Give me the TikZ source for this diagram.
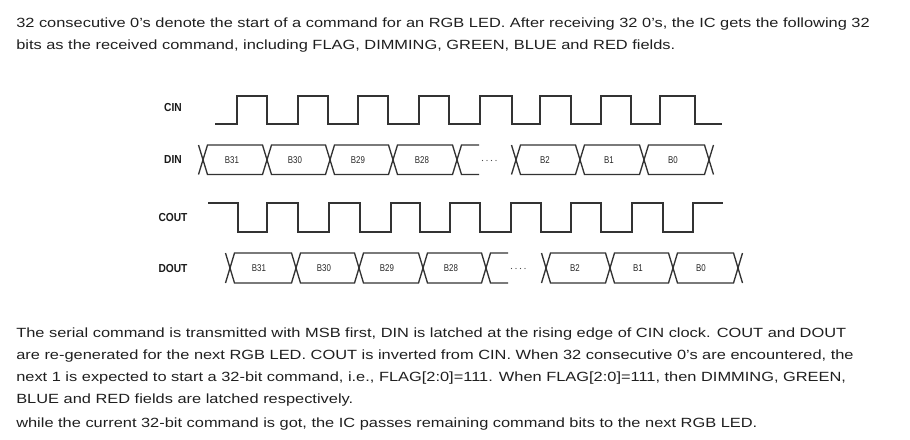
\documentclass[tikz,border=0pt]{standalone}
\usepackage{fontspec}
\setmainfont{Liberation Sans}
\newfontfamily\parafont[FakeStretch=1.23]{Liberation Sans}
\newfontfamily\sigfont[FakeStretch=0.88]{Liberation Sans}
\newfontfamily\bitfont[FakeStretch=0.8]{Liberation Sans}
\begin{document}
\begin{tikzpicture}[x=0.75pt,y=-0.75pt,
    wave/.style={line width=1pt,draw=black!80,line join=miter},
    signame/.style={font=\sigfont\bfseries\fontsize{8.7pt}{10pt}\selectfont,text=black!90,inner sep=0pt},
    bitname/.style={font=\bitfont\fontsize{7.4pt}{9pt}\selectfont,text=black!85,inner sep=0pt},
    para/.style={font=\parafont\fontsize{10pt}{12pt}\selectfont,text=black!88,inner sep=0pt,anchor=base west}]
    \useasboundingbox (0,0) rectangle (910,439);
    % text above
    \node (top1) at (16,27.3) [para] {32 consecutive 0’s denote the start of a command for an RGB LED. After receiving 32 0’s, the IC gets the following 32};
    \node (top2) at (16,49.3) [para] {bits as the received command, including FLAG, DIMMING, GREEN, BLUE and RED fields.};
    % signal names
    \node (cin) at (173,108) [signame] {CIN};
    \node (din) at (173,160) [signame] {DIN};
    \node (cout) at (173,218) [signame] {COUT};
    \node (dout) at (173,269) [signame] {DOUT};
    % CIN
    \draw [wave] (215,124)--(237,124)--(237,96)--(267,96)--(267,124)--(298,124)--(298,96)--(328,96)--(328,124)--(358,124)--(358,96)--(388,96)--(388,124)--(419,124)--(419,96)--(449,96)--(449,124)--(480,124)--(480,96)--(512,96)--(512,124)--(540,124)--(540,96)--(571,96)--(571,124)--(601,124)--(601,96)--(631,96)--(631,124)--(660,124)--(660,96)--(695,96)--(695,124)--(722,124);
    % DIN
    \draw [wave] (198.5,174.5)--(207.5,145)--(262.5,145)--(271.5,174.5)--(325.5,174.5)--(334.5,145)--(388.5,145)--(397.5,174.5)--(452.5,174.5)--(461.5,145)--(479,145);
    \draw [wave] (198.5,145)--(207.5,174.5)--(262.5,174.5)--(271.5,145)--(325.5,145)--(334.5,174.5)--(388.5,174.5)--(397.5,145)--(452.5,145)--(461.5,174.5)--(479,174.5);
    \draw [wave] (511.5,174.5)--(520.5,145)--(575.5,145)--(584.5,174.5)--(639.5,174.5)--(648.5,145)--(704.5,145)--(713.5,174.5);
    \draw [wave] (511.5,145)--(520.5,174.5)--(575.5,174.5)--(584.5,145)--(639.5,145)--(648.5,174.5)--(704.5,174.5)--(713.5,145);
    \fill [black!70] (482.5,160.5) circle (0.5pt);
    \fill [black!70] (487,160.5) circle (0.5pt);
    \fill [black!70] (491.5,160.5) circle (0.5pt);
    \fill [black!70] (496,160.5) circle (0.5pt);
    \node (din31) at (232,160) [bitname] {B31};
    \node (din30) at (295,160) [bitname] {B30};
    \node (din29) at (358,160) [bitname] {B29};
    \node (din28) at (422,160) [bitname] {B28};
    \node (din2) at (545,160) [bitname] {B2};
    \node (din1) at (609,160) [bitname] {B1};
    \node (din0) at (673,160) [bitname] {B0};
    % COUT
    \draw [wave] (208,203)--(238,203)--(238,232)--(267,232)--(267,203)--(298,203)--(298,232)--(329,232)--(329,203)--(360,203)--(360,232)--(391,232)--(391,203)--(420,203)--(420,232)--(450,232)--(450,203)--(480,203)--(480,232)--(511,232)--(511,203)--(541,203)--(541,232)--(571,232)--(571,203)--(601,203)--(601,232)--(632,232)--(632,203)--(663,203)--(663,232)--(693,232)--(693,203)--(723,203);
    % DOUT
    \draw [wave] (225.5,283)--(234.5,253)--(291.5,253)--(300.5,283)--(354.5,283)--(363.5,253)--(418.5,253)--(427.5,283)--(481.5,283)--(490.5,253)--(508,253);
    \draw [wave] (225.5,253)--(234.5,283)--(291.5,283)--(300.5,253)--(354.5,253)--(363.5,283)--(418.5,283)--(427.5,253)--(481.5,253)--(490.5,283)--(508,283);
    \draw [wave] (541.5,283)--(550.5,253)--(605.5,253)--(614.5,283)--(668.5,283)--(677.5,253)--(733.5,253)--(742.5,283);
    \draw [wave] (541.5,253)--(550.5,283)--(605.5,283)--(614.5,253)--(668.5,253)--(677.5,283)--(733.5,283)--(742.5,253);
    \fill [black!70] (511.5,268.5) circle (0.5pt);
    \fill [black!70] (516,268.5) circle (0.5pt);
    \fill [black!70] (520.5,268.5) circle (0.5pt);
    \fill [black!70] (525,268.5) circle (0.5pt);
    \node (dout31) at (259,268) [bitname] {B31};
    \node (dout30) at (324,268) [bitname] {B30};
    \node (dout29) at (387,268) [bitname] {B29};
    \node (dout28) at (451,268) [bitname] {B28};
    \node (dout2) at (575,268) [bitname] {B2};
    \node (dout1) at (638,268) [bitname] {B1};
    \node (dout0) at (701,268) [bitname] {B0};
    % text below
    \node (bot1) at (16,337.7) [para] {The serial command is transmitted with MSB first, DIN is latched at the rising edge of CIN clock. COUT and DOUT};
    \node (bot2) at (16,359.7) [para] {are re-generated for the next RGB LED. COUT is inverted from CIN. When 32 consecutive 0’s are encountered, the};
    \node (bot3) at (16,381.7) [para] {next 1 is expected to start a 32-bit command, i.e., FLAG[2:0]=111. When FLAG[2:0]=111, then DIMMING, GREEN,};
    \node (bot4) at (16,403.5) [para] {BLUE and RED fields are latched respectively.};
    \node (bot5) at (16,427) [para] {while the current 32-bit command is got, the IC passes remaining command bits to the next RGB LED.};
\end{tikzpicture}
\end{document}
